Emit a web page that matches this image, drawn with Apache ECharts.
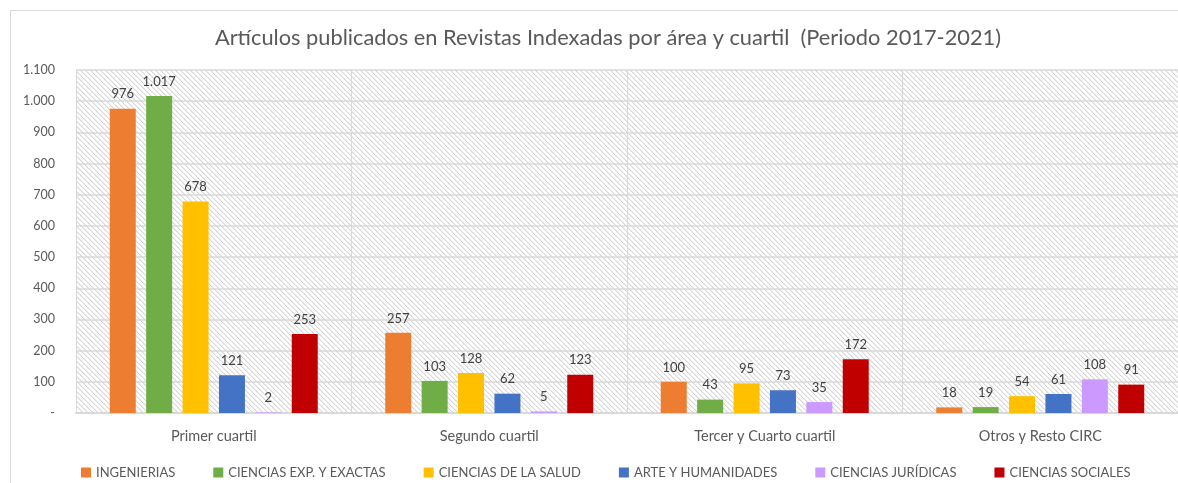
<!DOCTYPE html>
<html>
<head>
<meta charset="utf-8">
<script src="https://cdn.jsdelivr.net/npm/echarts@6/dist/echarts.min.js"></script>
<style>
  html, body { margin: 0; padding: 0; background: #fff; }
  #chart { width: 1178px; height: 483px; }
</style>
</head>
<body>
<div id="chart"></div>
<script>
// Quartile groups on the x axis
const categories = ['Primer cuartil', 'Segundo cuartil', 'Tercer y Cuarto cuartil', 'Otros y Resto CIRC'];

// Articles per knowledge area, one value per quartile group
const ingenierias   = [976, 257, 100, 18];
const cienciasExp   = [1017, 103, 43, 19];
const cienciasSalud = [678, 128, 95, 54];
const arteHum       = [121, 62, 73, 61];
const cienciasJur   = [2, 5, 35, 108];
const cienciasSoc   = [253, 123, 172, 91];

const seriesNames = ['INGENIERIAS', 'CIENCIAS EXP. Y EXACTAS', 'CIENCIAS DE LA SALUD',
                     'ARTE Y HUMANIDADES', 'CIENCIAS JURÍDICAS', 'CIENCIAS SOCIALES'];
const seriesData = [ingenierias, cienciasExp, cienciasSalud, arteHum, cienciasJur, cienciasSoc];
const seriesColors = ['#ED7D31', '#70AD47', '#FFC000', '#4472C4', '#CC99FF', '#C00000'];

// Y axis ticks
const yMin = 0, yMax = 1100, yStep = 100;

const FONT = 'Lato, "Open Sans", sans-serif';

// Thousands separated with a dot, zero shown as a dash
function fmt(v) {
  if (v === 0) return '-';
  return String(v).replace(/\B(?=(\d{3})+(?!\d))/g, '.');
}

// Diagonal hatch (top-left to bottom-right) used as the plot background
function hatchPattern() {
  const n = 5;
  const c = document.createElement('canvas');
  c.width = n; c.height = n;
  const ctx = c.getContext('2d');
  ctx.fillStyle = '#ffffff';
  ctx.fillRect(0, 0, n, n);
  for (let y = 0; y < n; y++) {
    for (let x = 0; x < n; x++) {
      if ((x - y + n) % n === 0) {
        ctx.fillStyle = '#d6d6d6';
        ctx.fillRect(x, y, 1, 1);
      } else if ((x - y + n) % n === 1) {
        ctx.fillStyle = '#eeeeee';
        ctx.fillRect(x, y, 1, 1);
      }
    }
  }
  return c;
}

const chart = echarts.init(document.getElementById('chart'), null, { renderer: 'canvas' });

chart.setOption({
  backgroundColor: '#ffffff',
  animation: false,
  title: {
    text: 'Artículos publicados en Revistas Indexadas por área y cuartil  (Periodo 2017-2021)',
    left: 603, top: 22, textAlign: 'center',
    textStyle: { fontFamily: FONT, fontSize: 21.8, fontWeight: 'normal', color: '#595959' }
  },
  graphic: [{
    type: 'rect', z: -10, silent: true,
    shape: { x: 10.5, y: 10.5, width: 1200, height: 500 },
    style: { fill: 'none', stroke: '#d9d9d9', lineWidth: 1 }
  }],
  grid: {
    left: 76, top: 70, width: 1106, height: 343,
    show: true, borderWidth: 0,
    backgroundColor: { image: hatchPattern(), repeat: 'repeat' }
  },
  legend: {
    left: 81, top: 466, padding: 0,
    icon: 'rect', itemWidth: 10, itemHeight: 10, itemGap: 38,
    textStyle: { fontFamily: FONT, fontSize: 13, color: '#595959' },
    data: seriesNames
  },
  xAxis: {
    type: 'category', data: categories,
    axisLine: { show: true, lineStyle: { color: '#d9d9d9', width: 2 } },
    axisTick: { show: false },
    splitLine: { show: true, lineStyle: { color: '#d9d9d9', width: 1 } },
    axisLabel: { fontFamily: FONT, fontSize: 14.5, color: '#595959', margin: 16 }
  },
  yAxis: {
    type: 'value', min: yMin, max: yMax, interval: yStep,
    axisLine: { show: false }, axisTick: { show: false },
    splitLine: { lineStyle: { color: '#d9d9d9', width: 1.5 } },
    axisLabel: { fontFamily: FONT, fontSize: 12.5, color: '#595959', margin: 21, formatter: fmt }
  },
  series: seriesNames.map((name, i) => ({
    name, type: 'bar', data: seriesData[i],
    barWidth: 26, barGap: '40%',
    itemStyle: { color: seriesColors[i] },
    label: {
      show: true, position: 'top', distance: 8,
      fontFamily: FONT, fontSize: 13, color: '#404040',
      formatter: p => fmt(p.value)
    }
  }))
});
</script>
</body>
</html>
